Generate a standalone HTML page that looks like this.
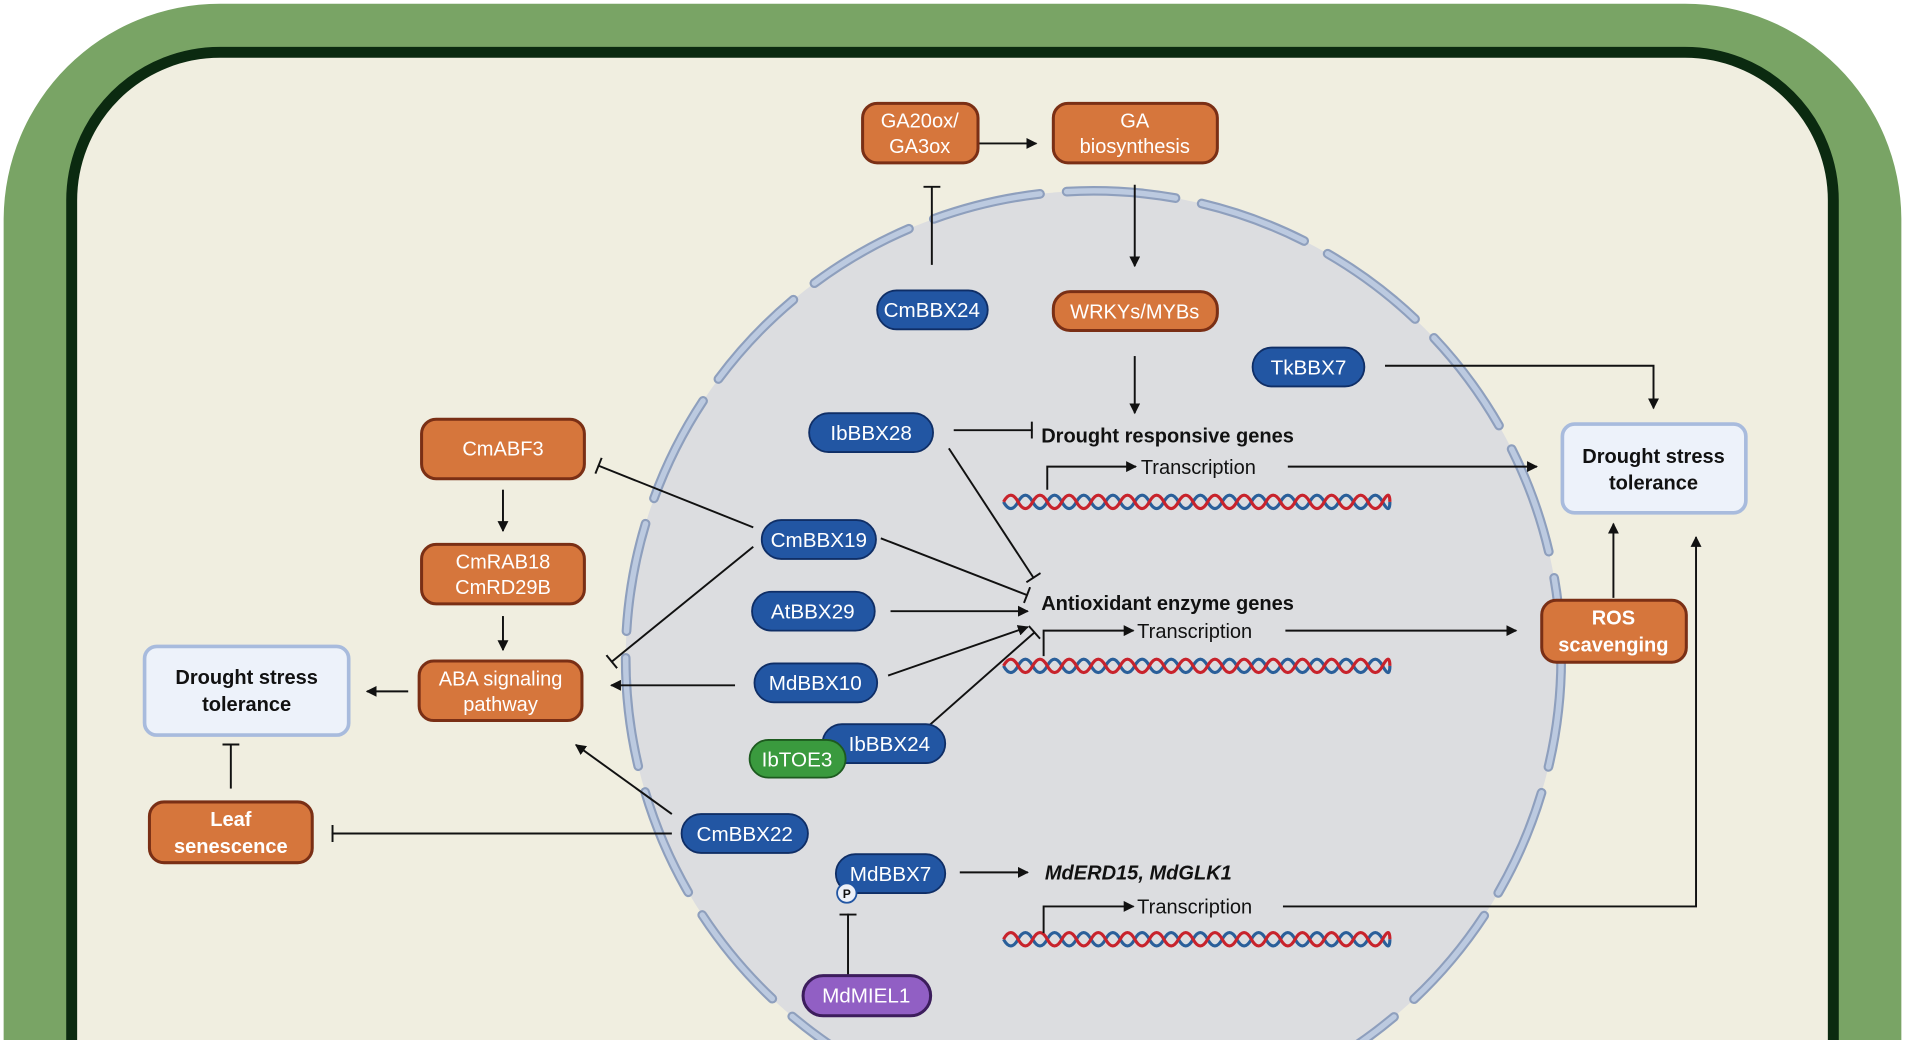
<!DOCTYPE html>
<html><head><meta charset="utf-8"><style>
html,body{margin:0;padding:0;background:#fff;width:1905px;height:1045px;overflow:hidden;position:relative;}
svg{display:block;position:absolute;left:0;top:0;}
text{font-family:"Liberation Sans",Arial,sans-serif;}
</style></head><body>
<svg width="1905" height="1045" viewBox="0 0 1568 860" xmlns="http://www.w3.org/2000/svg" overflow="hidden">
<defs>
<marker id="a" viewBox="0 0 10 10" refX="9" refY="5" markerWidth="9" markerHeight="9" orient="auto" markerUnits="userSpaceOnUse"><path d="M0,0 L10,5 L0,10 z" fill="#111"/></marker>
<marker id="t" viewBox="0 0 4 14" refX="2" refY="7" markerWidth="4" markerHeight="14" orient="auto" markerUnits="userSpaceOnUse"><rect x="0.5" y="0" width="1.6" height="14" fill="#111"/></marker>
<clipPath id="cp"><rect x="0" y="0" width="1568" height="856"/></clipPath>
<path id="w" d="M0,0 q6,-11 12,0 t12,0 t12,0 t12,0 t12,0 t12,0 t12,0 t12,0 t12,0 t12,0 t12,0 t12,0 t12,0 t12,0 t12,0 t12,0 t12,0 t12,0 t12,0 t12,0 t12,0 t12,0 t12,0 t12,0 t12,0 t12,0 t6,0"/>
</defs>
<rect width="1568" height="860" fill="#fff"/>
<g clip-path="url(#cp)">
<path d="M3,900 L3,180 A178,178 0 0 1 181,3 L1387,3 A178,178 0 0 1 1565,180 L1565,900 Z" fill="#79a465"/>
<path d="M59,900 L59,165 A122,122 0 0 1 181,43 L1387,43 A122,122 0 0 1 1509,165 L1509,900 Z" fill="#f0eee0" stroke="#0b2a10" stroke-width="9"/>
<circle cx="900" cy="542" r="385" fill="#dcdde0"/>
<circle cx="900" cy="542" r="385" fill="none" stroke="#8e9fbd" stroke-width="8" stroke-dasharray="90 22" stroke-linecap="round"/>
<circle cx="900" cy="542" r="385" fill="none" stroke="#bccae0" stroke-width="4.5" stroke-dasharray="90 22" stroke-linecap="round"/>
</g>
<rect x="0" y="856" width="1568" height="4" fill="#fff"/>

<g fill="none" stroke-width="2.6">
<use href="#w" stroke="#2a5f9a" transform="translate(826,413) scale(1,-1)"/>
<use href="#w" stroke="#c8232c" transform="translate(826,413)"/>
<use href="#w" stroke="#2a5f9a" transform="translate(826,548) scale(1,-1)"/>
<use href="#w" stroke="#c8232c" transform="translate(826,548)"/>
<use href="#w" stroke="#2a5f9a" transform="translate(826,773) scale(1,-1)"/>
<use href="#w" stroke="#c8232c" transform="translate(826,773)"/>
</g>

<g stroke="#111" stroke-width="1.6" fill="none">
<line x1="806" y1="118" x2="853" y2="118" marker-end="url(#a)"/>
<line x1="934" y1="152" x2="934" y2="219" marker-end="url(#a)"/>
<line x1="934" y1="293" x2="934" y2="340" marker-end="url(#a)"/>
<line x1="767" y1="218" x2="767" y2="153" marker-end="url(#t)"/>
<polyline points="1140,301 1361,301 1361,336" marker-end="url(#a)"/>
<line x1="785" y1="354" x2="850" y2="354" marker-end="url(#t)"/>
<polyline points="862,403 862,384 935,384" marker-end="url(#a)"/>
<line x1="1060" y1="384" x2="1265" y2="384" marker-end="url(#a)"/>
<line x1="781" y1="369" x2="851" y2="476" marker-end="url(#t)"/>
<line x1="725" y1="443" x2="846" y2="490" marker-end="url(#t)"/>
<line x1="733" y1="503" x2="846" y2="503" marker-end="url(#a)"/>
<line x1="731" y1="556" x2="846" y2="516" marker-end="url(#a)"/>
<line x1="758" y1="603" x2="852" y2="520" marker-end="url(#t)"/>
<polyline points="859,540 859,519 933,519" marker-end="url(#a)"/>
<line x1="1058" y1="519" x2="1248" y2="519" marker-end="url(#a)"/>
<line x1="1328" y1="492" x2="1328" y2="431" marker-end="url(#a)"/>
<line x1="620" y1="434" x2="492" y2="383" marker-end="url(#t)"/>
<line x1="620" y1="450" x2="503" y2="545" marker-end="url(#t)"/>
<line x1="605" y1="564" x2="503" y2="564" marker-end="url(#a)"/>
<line x1="553" y1="670" x2="474" y2="613" marker-end="url(#a)"/>
<line x1="553" y1="686" x2="273" y2="686" marker-end="url(#t)"/>
<line x1="414" y1="403" x2="414" y2="437" marker-end="url(#a)"/>
<line x1="414" y1="507" x2="414" y2="535" marker-end="url(#a)"/>
<line x1="336" y1="569" x2="302" y2="569" marker-end="url(#a)"/>
<line x1="190" y1="649" x2="190" y2="612" marker-end="url(#t)"/>
<line x1="790" y1="718" x2="846" y2="718" marker-end="url(#a)"/>
<polyline points="859,768 859,746 933,746" marker-end="url(#a)"/>
<polyline points="1056,746 1396,746 1396,442" marker-end="url(#a)"/>
<line x1="698" y1="802" x2="698" y2="752" marker-end="url(#t)"/>
</g>

<g stroke="#7a2f15" stroke-width="2.5" fill="#d6763c">
<rect x="710" y="85" width="95" height="49" rx="12"/>
<rect x="867" y="85" width="135" height="49" rx="12"/>
<rect x="867" y="240" width="135" height="32" rx="14"/>
<rect x="347" y="345" width="134" height="49" rx="12"/>
<rect x="347" y="448" width="134" height="49" rx="12"/>
<rect x="345" y="544" width="134" height="49" rx="12"/>
<rect x="123" y="660" width="134" height="50" rx="12"/>
<rect x="1269" y="494" width="119" height="51" rx="12"/>
</g>
<g fill="#fff" font-size="16.5" text-anchor="middle">
<text x="757" y="105">GA20ox/</text><text x="757" y="126">GA3ox</text>
<text x="934" y="105">GA</text><text x="934" y="126">biosynthesis</text>
<text x="934" y="262">WRKYs/MYBs</text>
<text x="414" y="375">CmABF3</text>
<text x="414" y="468">CmRAB18</text><text x="414" y="489">CmRD29B</text>
<text x="412" y="564">ABA signaling</text><text x="412" y="585">pathway</text>
<text x="190" y="680" font-weight="bold">Leaf</text><text x="190" y="702" font-weight="bold">senescence</text>
<text x="1328" y="514" font-weight="bold">ROS</text><text x="1328" y="536" font-weight="bold">scavenging</text>
</g>

<g fill="#edf2fa" stroke="#a8bbdd" stroke-width="3">
<rect x="119" y="532" width="168" height="73" rx="10"/>
<rect x="1286" y="349" width="151" height="73" rx="10"/>
</g>
<g fill="#111" font-size="16.5" font-weight="bold" text-anchor="middle">
<text x="203" y="563">Drought stress</text><text x="203" y="585">tolerance</text>
<text x="1361" y="381">Drought stress</text><text x="1361" y="403">tolerance</text>
</g>

<g fill="#2256a3" stroke="#0f2e66" stroke-width="1.5">
<rect x="722" y="239" width="91" height="32" rx="16"/>
<rect x="1031" y="286" width="92" height="32" rx="16"/>
<rect x="666" y="340" width="102" height="32" rx="16"/>
<rect x="627" y="428" width="94" height="32" rx="16"/>
<rect x="619" y="487" width="101" height="32" rx="16"/>
<rect x="621" y="546" width="101" height="32" rx="16"/>
<rect x="677" y="596" width="101" height="32" rx="16"/>
<rect x="561" y="670" width="104" height="32" rx="16"/>
<rect x="688" y="703" width="90" height="32" rx="16"/>
</g>
<rect x="617" y="609" width="79" height="31" rx="15.5" fill="#3a9a3e" stroke="#1d5a1f" stroke-width="1.5"/>
<rect x="661" y="803" width="105" height="33" rx="16.5" fill="#915fc4" stroke="#3c1d5c" stroke-width="2.5"/>
<circle cx="697" cy="735" r="8" fill="#eef1f8" stroke="#2256a3" stroke-width="1.5"/>
<text x="697" y="739" font-size="10" font-weight="bold" text-anchor="middle" fill="#111">P</text>
<g fill="#fff" font-size="17" text-anchor="middle">
<text x="767" y="261">CmBBX24</text>
<text x="1077" y="308">TkBBX7</text>
<text x="717" y="362">IbBBX28</text>
<text x="674" y="450">CmBBX19</text>
<text x="669" y="509">AtBBX29</text>
<text x="671" y="568">MdBBX10</text>
<text x="732" y="618">IbBBX24</text>
<text x="656" y="631">IbTOE3</text>
<text x="613" y="692">CmBBX22</text>
<text x="733" y="725">MdBBX7</text>
<text x="713" y="825">MdMIEL1</text>
</g>

<g fill="#111" font-size="16.5">
<text x="857" y="364" font-weight="bold">Drought responsive genes</text>
<text x="939" y="390">Transcription</text>
<text x="857" y="502" font-weight="bold">Antioxidant enzyme genes</text>
<text x="936" y="525">Transcription</text>
<text x="860" y="724" font-weight="bold" font-style="italic">MdERD15, MdGLK1</text>
<text x="936" y="752">Transcription</text>
</g>
</svg>
</body></html>
